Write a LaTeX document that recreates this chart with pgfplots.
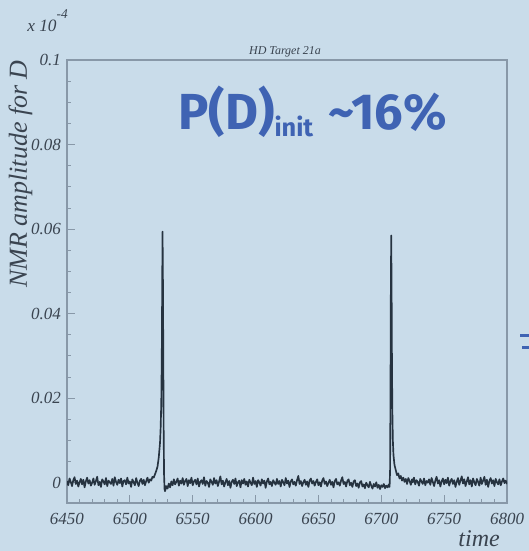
\documentclass[border=0pt]{standalone}
\usepackage{pgfplots}
\pgfplotsset{compat=1.18}
\usepackage{fontspec}
\setmainfont{Liberation Serif}
\newfontfamily\pfont{Fira Sans}
\definecolor{bg}{HTML}{C9DCEA}
\definecolor{txt}{HTML}{3A4450}
\definecolor{trace}{HTML}{263340}
\definecolor{axc}{HTML}{8898A8}
\definecolor{blu}{HTML}{3F63B3}
\pgfplotstableread{
x y
6450 0.0004
6451 -0.0006
6452 0.0010
6453 0.0002
6454 -0.0008
6455 0.0006
6456 0.0013
6457 -0.0003
6458 0.0005
6459 -0.0009
6460 0.0001
6461 0.0009
6462 -0.0004
6463 0.0007
6464 -0.0011
6465 0.0003
6466 0.0012
6467 -0.0002
6468 0.0006
6469 -0.0007
6470 0.0000
6471 0.0010
6472 -0.0005
6473 0.0004
6474 0.0014
6475 -0.0006
6476 0.0002
6477 -0.0010
6478 0.0008
6479 0.0003
6480 -0.0004
6481 0.0011
6482 -0.0008
6483 0.0005
6484 0.0001
6485 -0.0003
6486 0.0009
6487 -0.0007
6488 0.0013
6489 0.0002
6490 -0.0005
6491 0.0007
6492 -0.0001
6493 0.0010
6494 -0.0009
6495 0.0004
6496 0.0006
6497 -0.0004
6498 0.0012
6499 -0.0002
6500 0.0003
6501 -0.0010
6502 0.0008
6503 0.0001
6504 -0.0006
6505 0.0011
6506 0.0000
6507 -0.0008
6508 0.0005
6509 0.0009
6510 -0.0003
6511 0.0007
6512 -0.0006
6513 0.0004
6514 0.0012
6515 0.0000
6516 0.0008
6517 0.0005
6518 0.0014
6519 0.0012
6520 0.0020
6521 0.0028
6522 0.0038
6523 0.0060
6524 0.0095
6524.5 0.0130
6525 0.0190
6525.4 0.0300
6525.7 0.0450
6526.0 0.0594
6526.3 0.0480
6526.6 0.0300
6526.9 0.0120
6527.2 0.0020
6527.6 -0.0015
6528 -0.0020
6529 -0.0008
6530 -0.0014
6531 -0.0002
6532 -0.0011
6533 0.0003
6534 -0.0006
6535 0.0008
6536 -0.0004
6537 0.0002
6538 0.0010
6539 -0.0007
6540 0.0005
6541 -0.0002
6542 0.0011
6543 -0.0005
6544 0.0004
6545 0.0009
6546 -0.0008
6547 0.0006
6548 -0.0001
6549 0.0012
6550 -0.0006
6551 0.0003
6552 0.0007
6553 -0.0004
6554 0.0010
6555 -0.0009
6556 0.0002
6557 0.0006
6558 -0.0003
6559 0.0013
6560 -0.0007
6561 0.0004
6562 0.0000
6563 -0.0010
6564 0.0008
6565 0.0002
6566 -0.0005
6567 0.0011
6568 -0.0002
6569 0.0006
6570 -0.0008
6571 0.0003
6572 0.0015
6573 -0.0004
6574 0.0005
6575 -0.0009
6576 0.0001
6577 0.0009
6578 -0.0006
6579 0.0004
6580 -0.0012
6581 0.0002
6582 0.0007
6583 -0.0003
6584 0.0010
6585 -0.0008
6586 0.0001
6587 0.0005
6588 -0.0011
6589 0.0006
6590 -0.0002
6591 0.0009
6592 -0.0005
6593 0.0003
6594 -0.0009
6595 0.0007
6596 0.0000
6597 -0.0006
6598 0.0012
6599 -0.0003
6600 0.0004
6601 -0.0010
6602 0.0006
6603 0.0001
6604 -0.0007
6605 0.0008
6606 -0.0002
6607 0.0005
6608 -0.0012
6609 0.0003
6610 0.0010
6611 -0.0004
6612 0.0002
6613 -0.0008
6614 0.0006
6615 0.0000
6616 -0.0005
6617 0.0009
6618 -0.0003
6619 0.0004
6620 -0.0009
6621 0.0007
6622 0.0001
6623 -0.0006
6624 0.0011
6625 -0.0002
6626 0.0005
6627 -0.0010
6628 0.0003
6629 0.0008
6630 -0.0004
6631 0.0002
6632 -0.0007
6633 0.0006
6634 0.0016
6635 -0.0003
6636 0.0004
6637 -0.0008
6638 0.0001
6639 0.0007
6640 -0.0005
6641 0.0003
6642 -0.0010
6643 0.0005
6644 0.0010
6645 -0.0002
6646 0.0004
6647 -0.0007
6648 0.0002
6649 0.0008
6650 -0.0006
6651 0.0001
6652 -0.0009
6653 0.0005
6654 0.0011
6655 -0.0003
6656 0.0003
6657 -0.0008
6658 0.0000
6659 0.0007
6660 -0.0005
6661 0.0002
6662 -0.0011
6663 0.0004
6664 0.0009
6665 -0.0004
6666 0.0001
6667 -0.0007
6668 0.0005
6669 0.0013
6670 -0.0003
6671 0.0002
6672 -0.0009
6673 0.0004
6674 0.0008
6675 -0.0006
6676 0.0000
6677 -0.0010
6678 0.0003
6679 0.0006
6680 -0.0008
6681 -0.0002
6682 -0.0012
6683 0.0001
6684 0.0004
6685 -0.0009
6686 -0.0004
6687 -0.0013
6688 0.0000
6689 -0.0006
6690 -0.0011
6691 0.0002
6692 -0.0007
6693 -0.0014
6694 -0.0003
6695 -0.0009
6696 0.0001
6697 -0.0012
6698 -0.0005
6699 -0.0015
6700 -0.0006
6701 -0.0010
6702 -0.0003
6703 -0.0013
6704 -0.0007
6705 -0.0011
6706 -0.0004
6706.6 -0.0010
6707.0 0.0030
6707.3 0.0200
6707.6 0.0450
6707.9 0.0585
6708.2 0.0460
6708.5 0.0280
6708.8 0.0170
6709.2 0.0100
6709.7 0.0065
6710.5 0.0042
6711.5 0.0030
6712.5 0.0018
6713.5 0.0022
6714.5 0.0010
6715.5 0.0016
6716.5 0.0005
6717.5 0.0012
6718.5 0.0002
6719.5 0.0009
6720.5 -0.0003
6721.5 0.0011
6722.5 0.0004
6723.5 -0.0005
6724.5 0.0008
6725 0.0001
6726 0.0012
6727 -0.0004
6728 0.0006
6729 0.0002
6730 -0.0007
6731 0.0009
6732 0.0003
6733 -0.0003
6734 0.0010
6735 -0.0006
6736 0.0004
6737 0.0000
6738 0.0008
6739 -0.0005
6740 0.0011
6741 0.0002
6742 -0.0008
6743 0.0005
6744 0.0014
6745 -0.0002
6746 0.0006
6747 -0.0009
6748 0.0003
6749 0.0010
6750 -0.0004
6751 0.0007
6752 -0.0001
6753 0.0012
6754 -0.0007
6755 0.0004
6756 0.0009
6757 -0.0003
6758 0.0006
6759 -0.0010
6760 0.0002
6761 0.0011
6762 -0.0005
6763 0.0005
6764 0.0015
6765 -0.0002
6766 0.0008
6767 -0.0008
6768 0.0003
6769 0.0013
6770 -0.0004
6771 0.0006
6772 -0.0009
6773 0.0010
6774 0.0001
6775 -0.0006
6776 0.0009
6777 0.0002
6778 -0.0007
6779 0.0012
6780 -0.0003
6781 0.0005
6782 0.0014
6783 -0.0005
6784 0.0007
6785 -0.0010
6786 0.0004
6787 0.0011
6788 -0.0002
6789 0.0006
6790 -0.0008
6791 0.0009
6792 0.0001
6793 -0.0004
6794 0.0008
6795 -0.0006
6796 0.0003
6797 0.0010
6798 -0.0001
6799 0.0005
6800 -0.0003
}\nmrdata
\begin{document}
\begin{tikzpicture}[x=1pt,y=1pt]
\fill[bg] (0,0) rectangle (396.75,413.25);
\useasboundingbox (0,0) rectangle (396.75,413.25);
\begin{axis}[
  at={(50.25pt,36pt)}, anchor=south west,
  scale only axis, width=330pt, height=332.25pt,
  xmin=6450, xmax=6800, ymin=-0.0048, ymax=0.1,
  axis line style={axc, line width=0.8pt},
  tick style={axc, line width=0.6pt},
  major tick length=6pt, minor tick length=3pt,
  tick align=inside, tick pos=left,
  xtick={6450,6500,6550,6600,6650,6700,6750,6800},
  xticklabels={6450,6500,6550,6600,6650,6700,6750,6800},
  minor x tick num=4,
  ytick={0,0.02,0.04,0.06,0.08,0.1},
  yticklabels={0,0.02,0.04,0.06,0.08,0.1},
  minor y tick num=3,
  tick label style={font=\fontsize{12.75}{14}\selectfont\itshape, text=txt},
  xticklabel style={yshift=-4pt},
  yticklabel style={xshift=-1pt},
]
\addplot[trace, line width=1.25pt, line join=round] table[x=x, y=y] {\nmrdata};
\end{axis}
\node[anchor=base, font=\fontsize{9}{10}\selectfont\itshape, text=txt] at (213.75,372) {HD Target 21a};
\node[anchor=base west, inner sep=0, font=\fontsize{13}{14}\selectfont\itshape, text=txt] at (20.25,389.25) {x 10\raisebox{0.75em}{\fontsize{10}{11}\selectfont -4}};
\node[rotate=90, anchor=base east, inner sep=0, font=\fontsize{19.5}{22}\selectfont\itshape, text=txt] at (20.25,368.25) {NMR amplitude for D};
\node[anchor=base east, inner sep=0, font=\fontsize{18}{20}\selectfont\itshape, text=txt] at (375,3.75) {time};
\node[anchor=base west, inner sep=0, text=blu] at (133.5,315.75) {\pfont\bfseries\fontsize{38}{42}\selectfont P(D)\raisebox{-0.13em}{\fontsize{19}{21}\selectfont init}\hspace{0.3em}\char`\~16\%};
\fill[blu] (390,160.5) rectangle (396.75,162.5);
\fill[blu] (391.5,151.5) rectangle (396.75,153.5);
\end{tikzpicture}
\end{document}
